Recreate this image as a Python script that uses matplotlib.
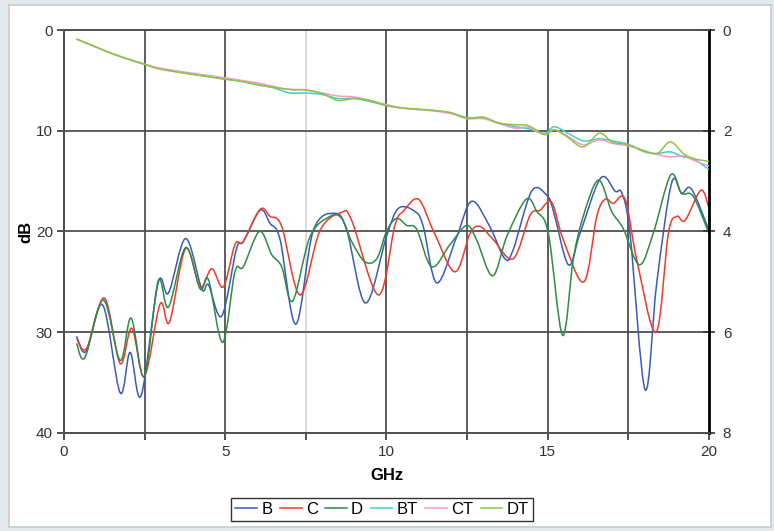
import matplotlib
matplotlib.use("Agg")
import matplotlib.pyplot as plt
from matplotlib.patches import Rectangle, PathPatch
from matplotlib.path import Path
from matplotlib.lines import Line2D

plt.rcParams['font.family'] = ['Liberation Sans', 'DejaVu Sans']

# return loss curves (left axis, dB)
B_x = [0.39, 0.68, 1.2, 1.74, 2.05, 2.39, 2.92, 3.24, 3.77, 4.27, 4.48, 4.89, 5.35, 5.56, 6.08,
       6.39, 6.7, 7.19, 7.73, 8.4, 8.77, 9.35, 10.0, 10.37, 10.88, 11.14, 11.56, 12.18, 12.64,
       13.2, 13.67, 13.93, 14.5, 14.97, 15.17, 15.64, 16.0, 16.64, 17.09, 17.3, 17.55, 18.02,
       18.38, 18.84, 19.15, 19.46, 20.0]
B_y = [30.4, 31.9, 27.3, 36.0, 32.0, 36.3, 25.1, 26.1, 20.7, 25.7, 25.3, 28.4, 21.7, 21.0, 17.9,
       19.2, 20.8, 29.2, 19.9, 18.2, 19.9, 27.1, 20.5, 17.7, 18.0, 19.5, 25.1, 20.5, 17.0,
       19.5, 22.7, 21.8, 16.0, 16.4, 17.9, 23.3, 20.2, 14.7, 16.0, 16.2, 20.2, 35.7,
       25.1, 15.2, 16.2, 15.8, 19.9]

C_x = [0.39, 0.7, 1.25, 1.74, 2.1, 2.49, 2.98, 3.27, 3.77, 4.22, 4.58, 4.94, 5.3, 5.56, 6.08,
       6.39, 6.75, 7.32, 7.94, 8.61, 8.92, 9.75, 10.26, 10.52, 10.99, 11.45, 12.12, 12.59, 12.9,
       13.31, 13.93, 14.45, 14.76, 15.12, 15.48, 16.12, 16.52, 16.78, 17.03, 17.4, 17.76, 18.36,
       18.74, 19.0, 19.26, 19.75, 20.0]
C_y = [30.6, 31.6, 26.6, 33.1, 29.6, 34.4, 27.2, 29.0, 21.7, 25.5, 23.7, 25.5, 21.3, 21.0, 17.8,
       18.5, 19.5, 26.3, 19.9, 18.1, 18.9, 26.3, 19.4, 18.0, 16.8, 19.9, 24.0, 20.2, 19.5,
       20.8, 22.7, 18.4, 17.9, 17.1, 20.8, 25.0, 18.5, 16.8, 17.2, 16.8, 22.8, 30.0,
       20.2, 18.5, 18.9, 15.9, 17.7]

D_x = [0.39, 0.65, 1.22, 1.74, 2.08, 2.49, 2.92, 3.24, 3.77, 4.22, 4.48, 4.92, 5.3, 5.56, 6.06,
       6.44, 6.75, 7.09, 7.63, 8.25, 8.61, 8.92, 9.33, 9.7, 10.0, 10.31, 10.63, 10.94, 11.4,
       11.97, 12.48, 12.79, 13.29, 13.73, 14.33, 14.66, 15.02, 15.46, 15.79, 16.1, 16.57, 16.98,
       17.34, 17.84, 18.27, 18.81, 19.15, 19.51, 20.0]
D_y = [31.1, 32.5, 26.8, 32.8, 28.6, 34.4, 24.9, 27.5, 21.6, 25.7, 24.8, 31.0, 24.0, 23.5, 20.0,
       22.3, 23.5, 26.9, 20.5, 18.5, 18.7, 21.0, 23.0, 22.7, 20.0, 18.7, 19.4, 19.8, 23.5,
       21.3, 19.4, 20.8, 24.4, 20.5, 16.8, 18.0, 20.2, 30.3, 22.8, 18.5, 14.9, 18.0,
       19.7, 23.3, 20.2, 14.4, 16.2, 16.5, 20.2]

# insertion loss curves (right axis)
T_x = [0.39, 1.0, 1.5, 2.0, 2.5, 3.0, 4.0, 5.0, 5.5, 6.0, 6.5, 7.0, 7.5, 8.0, 8.5, 9.0, 9.5,
       10.0, 10.5, 11.0, 11.5, 12.0, 12.5, 13.0, 13.5, 14.0, 14.4, 14.9, 15.2, 15.6, 16.1, 16.6,
       17.0, 17.5, 18.0, 18.4, 18.8, 19.2, 19.5, 20.0]
BT_y = [0.18, 0.34, 0.47, 0.58, 0.68, 0.77, 0.88, 0.97, 1.02, 1.08, 1.15, 1.25, 1.25, 1.28, 1.36,
        1.36, 1.42, 1.50, 1.55, 1.58, 1.60, 1.65, 1.74, 1.75, 1.85, 1.92, 1.96, 2.05, 1.92, 2.04,
        2.20, 2.16, 2.20, 2.27, 2.42, 2.45, 2.42, 2.52, 2.55, 2.77]
CT_y = [0.18, 0.34, 0.47, 0.58, 0.68, 0.76, 0.86, 0.95, 1.00, 1.05, 1.12, 1.18, 1.19, 1.25, 1.31,
        1.33, 1.40, 1.48, 1.55, 1.58, 1.61, 1.66, 1.76, 1.76, 1.86, 1.95, 1.93, 2.08, 1.98, 2.10,
        2.28, 2.18, 2.25, 2.30, 2.40, 2.47, 2.52, 2.50, 2.58, 2.70]
DT_y = [0.18, 0.34, 0.47, 0.58, 0.68, 0.78, 0.88, 0.98, 1.02, 1.09, 1.14, 1.18, 1.19, 1.26, 1.40,
        1.36, 1.40, 1.50, 1.55, 1.57, 1.60, 1.64, 1.75, 1.73, 1.85, 1.88, 1.90, 2.07, 1.98, 2.12,
        2.32, 2.05, 2.22, 2.28, 2.40, 2.45, 2.22, 2.45, 2.55, 2.61]

colors = {'B': '#3a5cb4', 'C': '#ee3b2b', 'D': '#2f8a48',
          'BT': '#45cccc', 'CT': '#f29bc9', 'DT': '#8cc63e'}


def smooth_line(ax, xs, ys, color):
    # excel-style smoothed line: cubic bezier through the data points
    pts = list(zip(xs, ys))
    n = len(pts)
    verts = [pts[0]]
    codes = [Path.MOVETO]
    for i in range(n - 1):
        p0 = pts[i - 1] if i > 0 else pts[i]
        p1, p2 = pts[i], pts[i + 1]
        p3 = pts[i + 2] if i + 2 < n else pts[i + 1]
        c1 = (p1[0] + (p2[0] - p0[0]) / 6, p1[1] + (p2[1] - p0[1]) / 6)
        c2 = (p2[0] - (p3[0] - p1[0]) / 6, p2[1] - (p3[1] - p1[1]) / 6)
        verts += [c1, c2, p2]
        codes += [Path.CURVE4] * 3
    ax.add_patch(PathPatch(Path(verts, codes), facecolor='none', edgecolor=color,
                           lw=1.1, zorder=3))


fig = plt.figure(figsize=(7.74, 5.31), dpi=100, facecolor='#e2e8eb')
frame = Rectangle((0.011, 0.008), 0.985, 0.982, transform=fig.transFigure,
                  facecolor='white', edgecolor='#c5cdd1', lw=1.2, zorder=-5)
fig.add_artist(frame)

ax = fig.add_axes([0.0827, 0.1846, 0.8333, 0.7589])
ax2 = ax.twinx()
ax.patch.set_alpha(0)

smooth_line(ax, B_x, B_y, colors['B'])
smooth_line(ax, C_x, C_y, colors['C'])
smooth_line(ax, D_x, D_y, colors['D'])
smooth_line(ax2, T_x, BT_y, colors['BT'])
smooth_line(ax2, T_x, CT_y, colors['CT'])
smooth_line(ax2, T_x, DT_y, colors['DT'])

ax.set_xlim(0, 20)
ax.set_ylim(40, 0)
ax2.set_ylim(8, 0)

# grid
for gx in [2.5, 5, 7.5, 10, 12.5, 15, 17.5]:
    c = '#d8d8d8' if gx == 7.5 else '#505050'
    ax.axvline(gx, color=c, lw=1.3, zorder=0)
for gy in [10, 20, 30]:
    ax.axhline(gy, color='#505050', lw=1.3, zorder=0)

ax.set_xticks([0, 2.5, 5, 7.5, 10, 12.5, 15, 17.5, 20])
ax.set_xticklabels(['0', '', '5', '', '10', '', '15', '', '20'])
ax.set_yticks([0, 10, 20, 30, 40])
ax2.set_yticks([0, 2, 4, 6, 8])

ax.tick_params(axis='both', labelsize=11, colors='#333333', length=5, width=1.2, pad=4)
ax.tick_params(axis='y', pad=3)
ax2.tick_params(axis='y', labelsize=11, colors='#333333', direction='inout', length=8, width=1.2, pad=6)

for a in (ax, ax2):
    for s in ['top', 'left', 'bottom']:
        a.spines[s].set_color('#505050')
        a.spines[s].set_linewidth(1.3)
ax2.spines['right'].set_color('black')
ax2.spines['right'].set_linewidth(2)

ax.set_xlabel('GHz', fontsize=12, fontweight='bold', labelpad=6)
ax.set_ylabel('dB', fontsize=12, fontweight='bold', labelpad=2)

handles = [Line2D([], [], color=colors[k], lw=1.1, label=k) for k in ['B', 'C', 'D', 'BT', 'CT', 'DT']]
leg = fig.legend(handles=handles, loc='center', ncol=6, bbox_to_anchor=(0.4935, 0.04),
                 fontsize=12, frameon=True, fancybox=False, handlelength=1.3,
                 handletextpad=0.25, columnspacing=0.45, borderpad=0.25, borderaxespad=0)
leg.get_frame().set_edgecolor('black')
leg.get_frame().set_linewidth(1.0)

fig.savefig('out.png', dpi=100, facecolor=fig.get_facecolor())
